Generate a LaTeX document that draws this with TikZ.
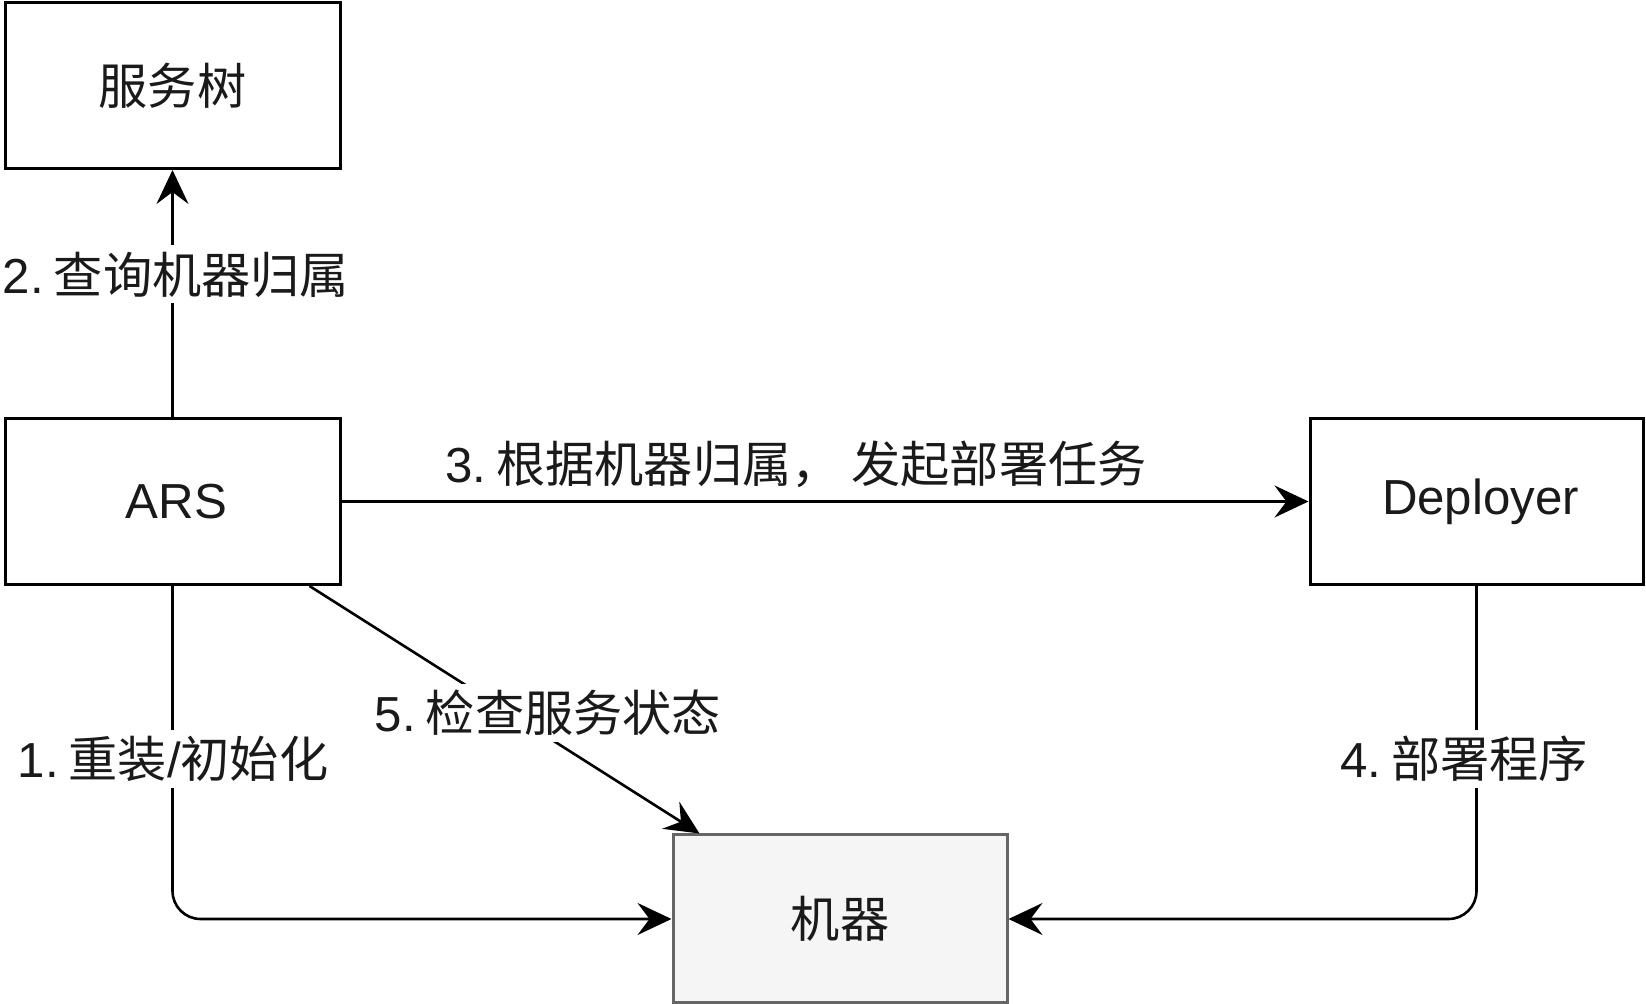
\documentclass[tikz,border=0pt]{standalone}
\usepackage{fontspec}
\setmainfont{Liberation Sans}
\newfontfamily\cjk{Noto Sans CJK SC}
\usetikzlibrary{arrows.meta,calc}
\definecolor{boxgray}{HTML}{666666}
\definecolor{fillgray}{HTML}{F5F5F5}
\definecolor{txt}{HTML}{1A1A1A}
\begin{document}
\begin{tikzpicture}[x=0.5pt,y=-0.5pt,
  font=\fontsize{24.6pt}{29pt}\selectfont,
  box/.style={draw=black,line width=1.5pt,fill=white,minimum width=167.5pt,minimum height=83pt,inner sep=0pt,text=txt},
  graybox/.style={box,draw=boxgray,fill=fillgray},
  conn/.style={line width=1.3pt,draw=black,-{Stealth[length=17pt,width=16pt,inset=6pt]}},
  lbl/.style={fill=white,inner sep=0pt,minimum height=29pt,text=txt},
  freelbl/.style={inner sep=0pt,text=txt}]
\useasboundingbox (0,0) rectangle (1646,1004);
\fill[white] (0,0) rectangle (1646,1004);

\node[box] (tree) at (172.5,85.5) {\cjk 服务树};
\node[box] (ars) at (172.5,501.5) {\hspace*{4pt}ARS};
\node[box,minimum width=166.5pt] (dep) at (1476.5,501.5) {\hspace*{4pt}Deployer};
\node[graybox,minimum width=167pt,minimum height=84pt] (m) at (840,919) {\cjk 机器};

\coordinate (d5s) at ($(ars.south east)+(-32,0)$);
\coordinate (d5e) at ($(m.north west)+(28,0)$);

\draw[conn] (ars.north) -- (tree.south);
\draw[conn] (ars.east) -- (dep.west);
\draw[conn,rounded corners=14pt] (ars.south) |- (m.west);
\draw[conn,rounded corners=14pt] (dep.south) |- (m.east);
\draw[conn] (d5s) -- (d5e);

\node[lbl] (l2) at (176,274.5) {2.\hspace{5pt}{\cjk 查询机器归属}};
\node[freelbl] (l3) at (796,464) {3.\hspace{5pt}{\cjk 根据机器归属， 发起部署任务}};
\node[lbl] (l1) at (173,759) {1.\hspace{5pt}{\cjk 重装}/{\cjk 初始化}};
\node[lbl] (l4) at (1464,759) {4.\hspace{5pt}{\cjk 部署程序}};
\node[lbl] (l5) at (548,713) {5.\hspace{5pt}{\cjk 检查服务状态}};
\end{tikzpicture}
\end{document}
